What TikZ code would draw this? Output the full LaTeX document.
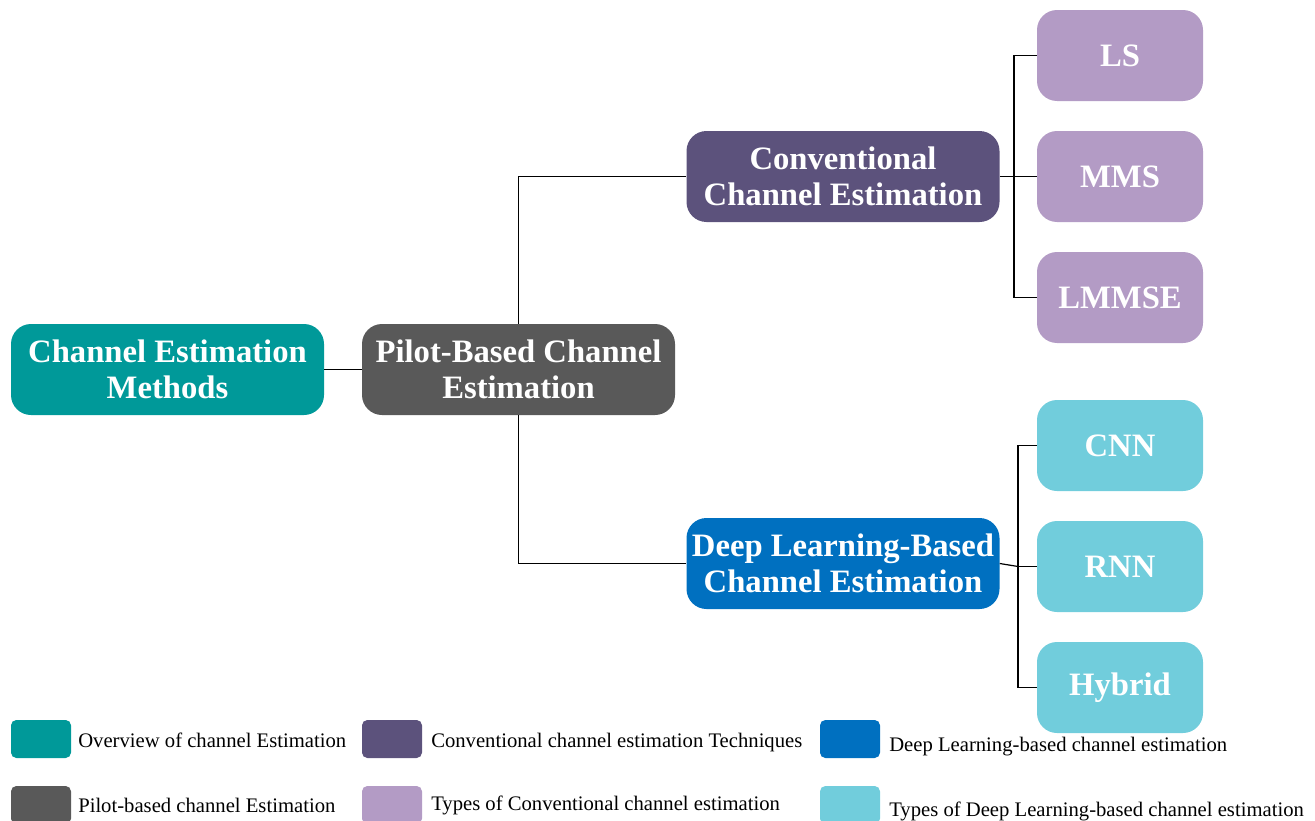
\documentclass[tikz,border=0pt]{standalone}
\usepackage{fontspec}
\setmainfont{Liberation Serif}
\definecolor{cteal}{RGB}{0,153,153}
\definecolor{cgray}{RGB}{89,89,89}
\definecolor{cpurple}{RGB}{92,82,124}
\definecolor{cblue}{RGB}{0,112,192}
\definecolor{clav}{RGB}{179,155,197}
\definecolor{ccyan}{RGB}{113,205,220}
\tikzset{
  box/.style={rounded corners=15pt, minimum width=234.75pt, minimum height=68.25pt, inner sep=0pt,
    text=white, align=center, font=\fontsize{24.5}{27}\selectfont\bfseries},
  leaf/.style={rounded corners=15pt, minimum width=124.5pt, minimum height=68.25pt, inner sep=0pt,
    text=white, align=center, font=\fontsize{24.5}{27}\selectfont\bfseries},
  swatch/.style={rounded corners=4pt, minimum width=45pt, minimum height=28.5pt, inner sep=0pt},
  legtext/.style={anchor=west, inner sep=0pt, font=\fontsize{15.5}{17}\selectfont},
  conn/.style={draw=black, line width=0.9pt}
}
\begin{document}
\begin{tikzpicture}[x=0.75pt,y=-0.75pt]
\useasboundingbox (0,0) rectangle (1315,821);
% main nodes
\node[box, fill=cteal] (cem) at (167.5,369.5) {Channel Estimation\\Methods};
\node[box, fill=cgray] (pilot) at (518.5,369.5) {Pilot-Based Channel\\Estimation};
\node[box, fill=cpurple] (conv) at (843,176.5) {Conventional\\Channel Estimation};
\node[box, fill=cblue] (deep) at (843,563.5) {Deep Learning-Based\\Channel Estimation};
% leaves
\node[leaf, fill=clav] (ls) at (1120,55.5) {LS};
\node[leaf, fill=clav] (mms) at (1120,176.5) {MMS};
\node[leaf, fill=clav] (lmmse) at (1120,297.5) {LMMSE};
\node[leaf, fill=ccyan] (cnn) at (1120,445.5) {CNN};
\node[leaf, fill=ccyan] (rnn) at (1120,566.5) {RNN};
\node[leaf, fill=ccyan] (hybrid) at (1120,687.5) {Hybrid};
% connectors
\coordinate (j1) at (1014,176.5);
\coordinate (j2) at (1018,566.5);
\draw[conn] (cem.east) -- (pilot.west);
\draw[conn] (pilot.north) |- (conv.west);
\draw[conn] (pilot.south) |- (deep.west);
\draw[conn] (conv.east) -- (j1);
\draw[conn] (j1) |- (ls.west);
\draw[conn] (j1) -- (mms.west);
\draw[conn] (j1) |- (lmmse.west);
\draw[conn] (deep.east) -- (j2);
\draw[conn] (j2) |- (cnn.west);
\draw[conn] (j2) -- (rnn.west);
\draw[conn] (j2) |- (hybrid.west);
% legend
\node[swatch, fill=cteal] (s1) at (41,739) {};
\node[swatch, fill=cpurple] (s2) at (392,739) {};
\node[swatch, fill=cblue] (s3) at (850,739) {};
\node[swatch, fill=cgray] (s4) at (41,805) {};
\node[swatch, fill=clav] (s5) at (392,805) {};
\node[swatch, fill=ccyan] (s6) at (850,805) {};
\node[legtext] (t1) at (78,740) {Overview of channel Estimation};
\node[legtext] (t2) at (431,743) {Conventional channel estimation Techniques};
\node[legtext] (t3) at (889,747) {Deep Learning-based channel estimation};
\node[legtext] (t4) at (78,805) {Pilot-based channel Estimation};
\node[legtext] (t5) at (431,805) {Types of Conventional channel estimation};
\node[legtext] (t6) at (889,811) {Types of Deep Learning-based channel estimation};
\end{tikzpicture}
\end{document}
